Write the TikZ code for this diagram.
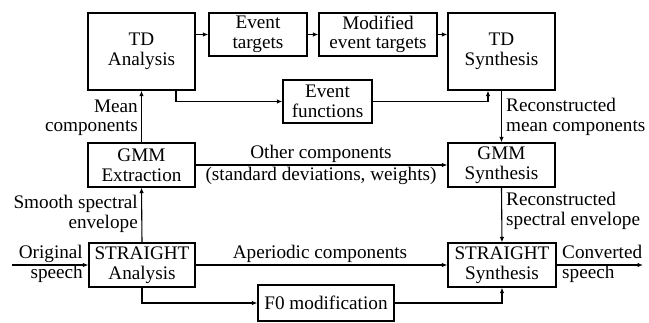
\documentclass[tikz,border=0pt]{standalone}
\usepackage{fontspec}
\setmainfont{Liberation Serif}
\usetikzlibrary{arrows.meta,positioning}
\tikzset{
  blk/.style={draw,line width=1.2pt,align=center,inner sep=0pt,font=\fontsize{19.2}{19.5}\selectfont},
  lbl/.style={inner sep=0pt,font=\fontsize{19.2}{19.5}\selectfont},
  arr/.style={line width=1.1pt,-{Latex[length=5.5pt,width=4.5pt]}},
}
\begin{document}
\begin{tikzpicture}[x=1pt,y=-1pt]
\useasboundingbox (0,0) rectangle (649,323);
% boxes
\node[blk,minimum width=107pt,minimum height=77pt] (TDa) at (141.5,51.5) {TD\\Analysis};
\node[blk,minimum width=98pt,minimum height=43pt] (ET) at (258,34.5) {Event\\targets};
\node[blk,minimum width=118pt,minimum height=43pt] (MET) at (378,34.5) {Modified\\event targets};
\node[blk,minimum width=107pt,minimum height=77pt] (TDs) at (501.5,51.5) {TD\\Synthesis};
\node[blk,minimum width=89pt,minimum height=43pt] (EF) at (327.5,101.5) {Event\\functions};
\node[blk,minimum width=107pt,minimum height=44pt] (GMMe) at (141.5,165) {GMM\\Extraction};
\node[blk,minimum width=107pt,minimum height=44pt] (GMMs) at (501.5,165) {GMM\\Synthesis};
\node[blk,minimum width=106pt,minimum height=44pt] (SA) at (142,265) {STRAIGHT\\Analysis};
\node[blk,minimum width=108pt,minimum height=44pt] (SS) at (502,265) {STRAIGHT\\Synthesis};
\node[blk,minimum width=136pt,minimum height=36pt] (F0) at (326,303) {F0 modification};
\coordinate (in) at (12,265);
\coordinate (out) at (643,265);
% connectors
\draw[arr] (TDa.east |- ET.west) -- (ET.west);
\draw[arr] (ET.east) -- (MET.west);
\draw[arr] (MET.east) -- (MET.east -| TDs.west);
\draw[arr] ([xshift=34.5pt]TDa.south) |- (EF.west);
\draw[arr] (EF.east) -| ([xshift=-13.5pt]TDs.south);
\draw[arr] (TDs.south) -- (GMMs.north);
\draw[arr] (GMMe.north) -- (TDa.south);
\draw[arr] (GMMe.east) -- (GMMs.west);
\draw[arr] (SA.north) -- (GMMe.south);
\draw[arr] (GMMs.south) -- (SS.north);
\draw[arr] (in) -- (SA.west);
\draw[arr] (SA.east) -- (SS.west);
\draw[arr] (SA.south) |- (F0.west);
\draw[arr] (F0.east) -| (SS.south);
\draw[arr] (SS.east) -- (out);
% labels
\node[lbl,anchor=east,align=right] (lmean) at (138,118) {Mean\\components};
\node[lbl,anchor=east,align=right] (lsmooth) at (138,214) {Smooth spectral\\envelope};
\node[lbl,anchor=west,align=left] (lrmean) at (506,117) {Reconstructed\\mean components};
\node[lbl,anchor=west,align=left] (lrspec) at (506,211) {Reconstructed\\spectral envelope};
\node[lbl] (lother) at (321,154) {Other components};
\node[lbl] (lstd) at (321,176) {(standard deviations, weights)};
\node[lbl] (laper) at (320,254) {Aperiodic components};
\node[lbl,anchor=east,align=right] (lorig) at (83,264) {Original\\speech};
\node[lbl,anchor=west,align=left] (lconv) at (562,264) {Converted\\speech};
\end{tikzpicture}
\end{document}
